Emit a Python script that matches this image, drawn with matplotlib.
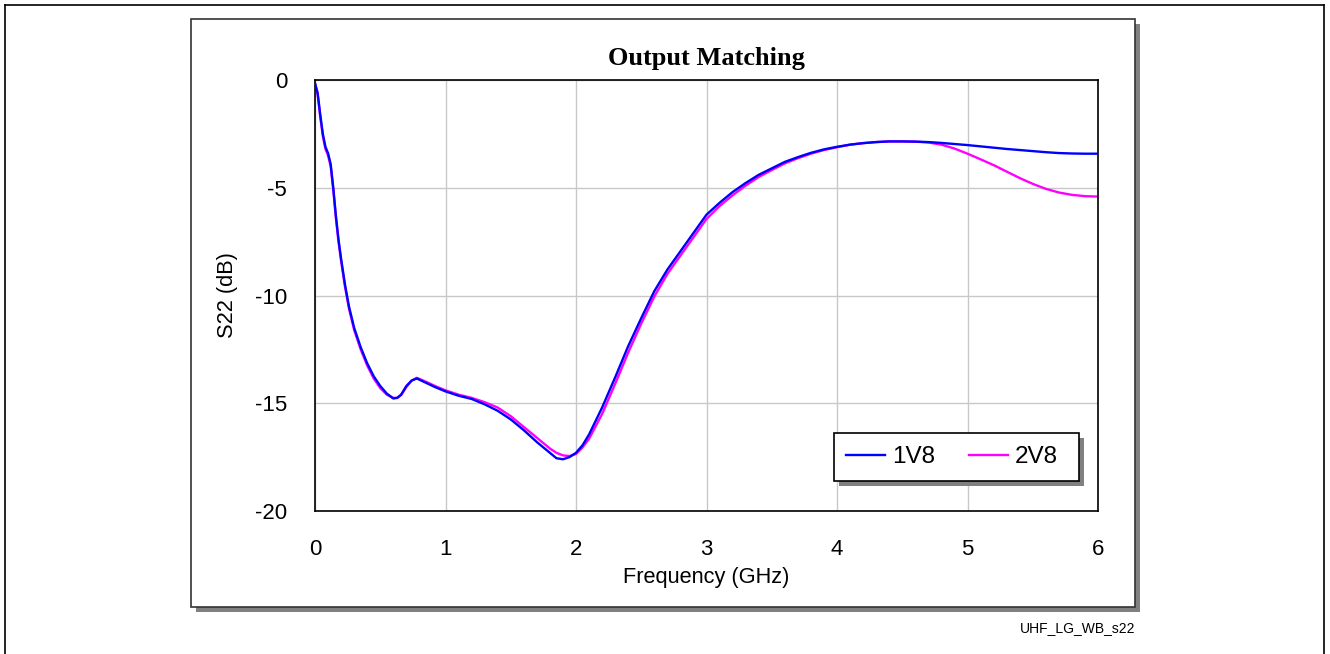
import matplotlib
matplotlib.use("Agg")
import matplotlib.pyplot as plt
from matplotlib.patches import Rectangle
from matplotlib.lines import Line2D

# S22 sweep, frequency in GHz, magnitude in dB
freq_1v8 = [0.00, 0.02, 0.04, 0.06, 0.08, 0.10, 0.12, 0.14, 0.16, 0.18, 0.20,
            0.23, 0.26, 0.30, 0.35, 0.40, 0.45, 0.50, 0.55, 0.60, 0.63, 0.66,
            0.70, 0.74, 0.78, 0.85, 0.92, 1.00, 1.10, 1.20, 1.30, 1.40, 1.50,
            1.60, 1.70, 1.80, 1.85, 1.90, 1.95, 2.00, 2.05, 2.10, 2.20, 2.30,
            2.40, 2.50, 2.60, 2.70, 2.80, 2.90, 3.00, 3.10, 3.20, 3.30, 3.40,
            3.50, 3.60, 3.70, 3.80, 3.90, 4.00, 4.10, 4.20, 4.30, 4.40, 4.50,
            4.60, 4.70, 4.80, 4.90, 5.00, 5.10, 5.20, 5.30, 5.40, 5.50, 5.60,
            5.70, 5.80, 5.90, 6.00]
s22_1v8 = [-0.15, -0.6, -1.6, -2.5, -3.1, -3.4, -3.9, -5.0, -6.3, -7.4, -8.3,
           -9.5, -10.5, -11.5, -12.4, -13.15, -13.75, -14.2, -14.55, -14.78, -14.75, -14.6,
           -14.2, -13.95, -13.85, -14.05, -14.25, -14.45, -14.65, -14.8, -15.05, -15.35, -15.75,
           -16.25, -16.8, -17.3, -17.55, -17.6, -17.5, -17.3, -16.95, -16.45, -15.2, -13.8,
           -12.35, -11.05, -9.8, -8.8, -7.95, -7.1, -6.25, -5.7, -5.2, -4.78, -4.4,
           -4.1, -3.8, -3.58, -3.38, -3.22, -3.1, -3.0, -2.93, -2.88, -2.85, -2.85,
           -2.86, -2.88, -2.92, -2.97, -3.02, -3.08, -3.14, -3.2, -3.25, -3.3, -3.35,
           -3.39, -3.41, -3.42, -3.42]

freq_2v8 = freq_1v8
s22_2v8 = [-0.15, -0.65, -1.7, -2.6, -3.2, -3.5, -4.0, -5.1, -6.4, -7.5, -8.4,
           -9.6, -10.6, -11.6, -12.5, -13.25, -13.85, -14.3, -14.6, -14.75, -14.75, -14.62,
           -14.25, -13.95, -13.82, -14.0, -14.2, -14.4, -14.6, -14.75, -14.95, -15.2, -15.6,
           -16.1, -16.6, -17.1, -17.3, -17.42, -17.45, -17.35, -17.05, -16.65, -15.5, -14.1,
           -12.65, -11.3, -10.05, -9.0, -8.15, -7.3, -6.45, -5.85, -5.35, -4.9, -4.5,
           -4.18, -3.87, -3.63, -3.42, -3.25, -3.12, -3.0, -2.93, -2.88, -2.85, -2.85,
           -2.86, -2.9, -3.0, -3.18, -3.42, -3.68, -3.95, -4.25, -4.55, -4.82, -5.05,
           -5.22, -5.33, -5.39, -5.41]

series_labels = ["1V8", "2V8"]
series_colors = ["#0000ff", "#ff00ff"]
x_ticks = [0, 1, 2, 3, 4, 5, 6]
y_ticks = [0, -5, -10, -15, -20]

W, H = 1330, 654
plt.rcParams["font.family"] = ["Liberation Sans", "DejaVu Sans"]
plt.rcParams["axes.unicode_minus"] = False
fig = plt.figure(figsize=(W / 100, H / 100), dpi=100)


def fx(px):
    return px / W


def fy(py):
    return 1 - py / H


# page border (top, left, right)
for xs, ys in [((5, 1324), (5, 5)), ((5, 5), (5, H)), ((1324, 1324), (5, H))]:
    fig.add_artist(Line2D([fx(x) for x in xs], [fy(y) for y in ys],
                          color="black", lw=1.2, transform=fig.transFigure))

# chart frame with drop shadow
fig.add_artist(Rectangle((fx(196), fy(612)), fx(1140) - fx(196), fy(24) - fy(612),
                         transform=fig.transFigure, facecolor="#808080",
                         edgecolor="none", zorder=0))
fig.add_artist(Rectangle((fx(191), fy(607)), fx(1135) - fx(191), fy(19) - fy(607),
                         transform=fig.transFigure, facecolor="white",
                         edgecolor="#333333", lw=1.2, zorder=0.5))

ax = fig.add_axes([fx(315), fy(511), fx(1098) - fx(315), fy(80) - fy(511)])
ax.set_zorder(2)
ax.patch.set_facecolor("white")

l1, = ax.plot(freq_1v8, s22_1v8, color=series_colors[0], lw=1.7, zorder=3,
              label=series_labels[0])
l2, = ax.plot(freq_2v8, s22_2v8, color=series_colors[1], lw=1.7, zorder=2,
              label=series_labels[1])

ax.set_xlim(0, 6)
ax.set_ylim(-20, 0)
ax.set_xticks(x_ticks)
ax.set_yticks(y_ticks)
ax.grid(True, color="#c8c8c8", lw=1.0)
ax.set_axisbelow(True)
ax.tick_params(length=0, labelsize=16, pad=20)
for sp in ax.spines.values():
    sp.set_linewidth(1.2)
    sp.set_color("black")

ax.set_xlabel("Frequency (GHz)", fontsize=15.7, labelpad=5)
ax.set_ylabel("S22 (dB)", fontsize=15.7, labelpad=12)

fig.text(fx(706), fy(59), "Output Matching", ha="center", va="center",
         fontsize=19, fontweight="bold", family="Liberation Serif")

fig.text(fx(1135), fy(628), "UHF_LG_WB_s22", ha="right", va="center", fontsize=10)

# legend box with shadow
fig.add_artist(Rectangle((fx(839), fy(486)), fx(1084) - fx(839), fy(438) - fy(486),
                         transform=fig.transFigure, facecolor="#808080",
                         edgecolor="none", zorder=5))
fig.add_artist(Rectangle((fx(834), fy(481)), fx(1079) - fx(834), fy(433) - fy(481),
                         transform=fig.transFigure, facecolor="white",
                         edgecolor="black", lw=1.2, zorder=6))
leg = fig.legend(handles=[l1, l2], loc="center", ncol=2,
                 bbox_to_anchor=(fx(952), fy(457)), frameon=False,
                 fontsize=17.5, handlelength=1.6, columnspacing=1.4,
                 handletextpad=0.28, borderpad=0, borderaxespad=0)
leg.set_zorder(7)

fig.savefig("out.png", dpi=100)
